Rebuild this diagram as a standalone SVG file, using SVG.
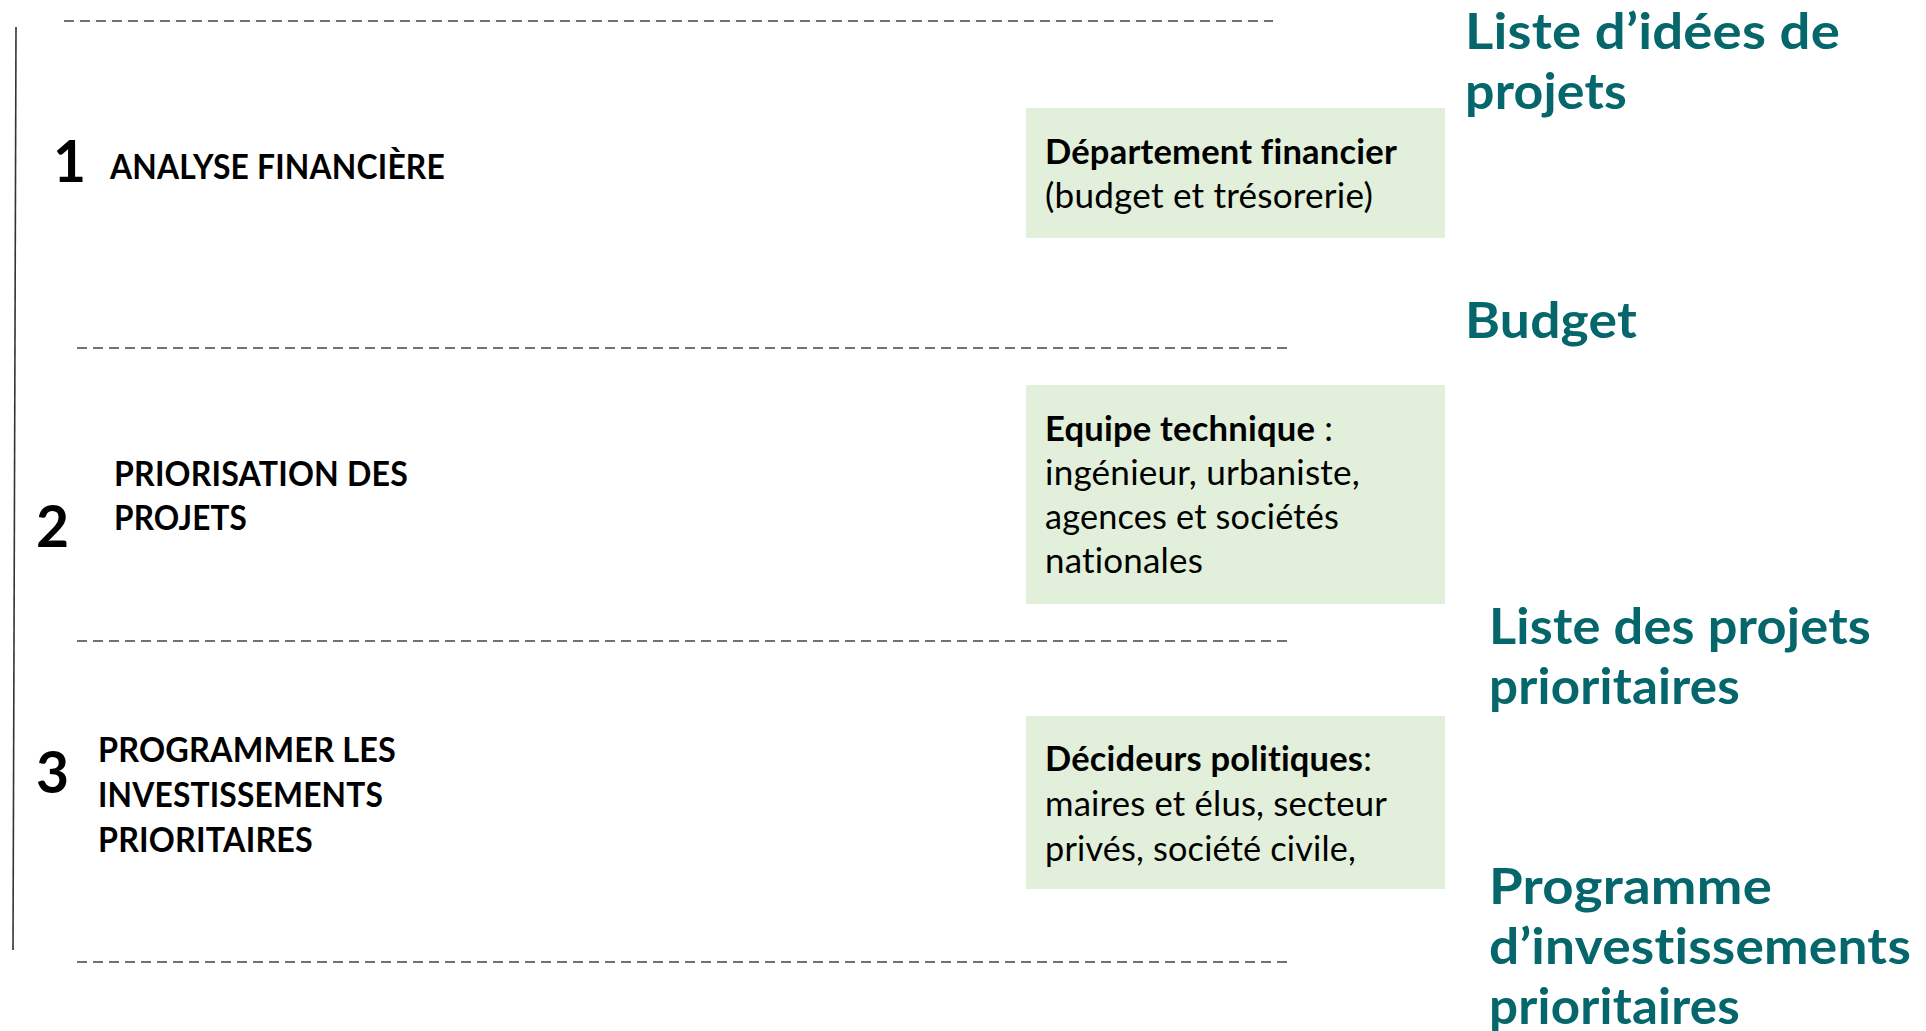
<svg xmlns="http://www.w3.org/2000/svg" width="1926" height="1031" viewBox="0 0 1926 1031">
<style>
text{font-variant-ligatures:none;font-feature-settings:"liga" 0,"dlig" 0,"clig" 0;letter-spacing:0.2px}
.bg{fill:#ffffff}
.box{fill:#E2EFDA}
.dash{stroke:#444;stroke-width:1.6;stroke-dasharray:10 6;fill:none}
.vline{stroke:#333;stroke-width:1.6;fill:none}
.num{font-family:Lato,"Open Sans",sans-serif;font-weight:bold;font-size:57px;fill:#000}
.step{font-family:Lato,"Open Sans",sans-serif;font-weight:bold;font-size:35px;fill:#000}
.body{font-family:Lato,"Open Sans",sans-serif;font-size:35px;fill:#000}
.b{font-weight:bold}
.out{font-family:Lato,"Open Sans",sans-serif;font-weight:bold;font-size:50px;fill:#05666B}
</style>
<rect class="bg" x="0" y="0" width="1926" height="1031"/>
<g id="connectors">
<line class="vline" x1="16" y1="27" x2="13" y2="950"/>
<line class="dash" x1="64" y1="21" x2="1273" y2="21"/>
<line class="dash" x1="77" y1="348" x2="1287" y2="348"/>
<line class="dash" x1="77" y1="641" x2="1287" y2="641"/>
<line class="dash" x1="77" y1="962" x2="1287" y2="962"/>
</g>
<g id="step1">
<text class="num" x="53" y="182">1</text>
<text class="step" x="110" y="179" textLength="335" lengthAdjust="spacingAndGlyphs">ANALYSE FINANCIÈRE</text>
</g>
<g id="step2">
<text class="num" x="36" y="547">2</text>
<text class="step" x="114" y="486" textLength="294" lengthAdjust="spacingAndGlyphs">PRIORISATION DES</text>
<text class="step" x="114" y="530" textLength="133" lengthAdjust="spacingAndGlyphs">PROJETS</text>
</g>
<g id="step3">
<text class="num" x="36" y="793">3</text>
<text class="step" x="98" y="762" textLength="298" lengthAdjust="spacingAndGlyphs">PROGRAMMER LES</text>
<text class="step" x="98" y="807" textLength="285" lengthAdjust="spacingAndGlyphs">INVESTISSEMENTS</text>
<text class="step" x="98" y="852" textLength="215" lengthAdjust="spacingAndGlyphs">PRIORITAIRES</text>
</g>
<g id="actor1">
<rect class="box" x="1026" y="108" width="419" height="130"/>
<text class="body b" x="1045" y="164" textLength="352" lengthAdjust="spacingAndGlyphs">Département financier</text>
<text class="body" x="1045" y="208" textLength="328" lengthAdjust="spacingAndGlyphs">(budget et trésorerie)</text>
</g>
<g id="actor2">
<rect class="box" x="1026" y="385" width="419" height="219"/>
<text class="body" x="1045" y="441" textLength="288" lengthAdjust="spacingAndGlyphs"><tspan class="b">Equipe technique</tspan> :</text>
<text class="body" x="1045" y="485" textLength="315" lengthAdjust="spacingAndGlyphs">ingénieur, urbaniste,</text>
<text class="body" x="1045" y="529" textLength="294" lengthAdjust="spacingAndGlyphs">agences et sociétés</text>
<text class="body" x="1045" y="573" textLength="158" lengthAdjust="spacingAndGlyphs">nationales</text>
</g>
<g id="actor3">
<rect class="box" x="1026" y="716" width="419" height="173"/>
<text class="body" x="1045" y="771" textLength="327" lengthAdjust="spacingAndGlyphs"><tspan class="b">Décideurs politiques</tspan>:</text>
<text class="body" x="1045" y="816" textLength="342" lengthAdjust="spacingAndGlyphs">maires et élus, secteur</text>
<text class="body" x="1045" y="861" textLength="311" lengthAdjust="spacingAndGlyphs">privés, société civile,</text>
</g>
<g id="output1">
<text class="out" x="1465" y="49" textLength="375" lengthAdjust="spacingAndGlyphs">Liste d’idées de</text>
<text class="out" x="1465" y="109" textLength="162" lengthAdjust="spacingAndGlyphs">projets</text>
</g>
<g id="output2">
<text class="out" x="1465" y="338" textLength="172" lengthAdjust="spacingAndGlyphs">Budget</text>
</g>
<g id="output3">
<text class="out" x="1489" y="644" textLength="382" lengthAdjust="spacingAndGlyphs">Liste des projets</text>
<text class="out" x="1489" y="704" textLength="251" lengthAdjust="spacingAndGlyphs">prioritaires</text>
</g>
<g id="output4">
<text class="out" x="1489" y="904" textLength="283" lengthAdjust="spacingAndGlyphs">Programme</text>
<text class="out" x="1489" y="964" textLength="422" lengthAdjust="spacingAndGlyphs">d’investissements</text>
<text class="out" x="1489" y="1024" textLength="251" lengthAdjust="spacingAndGlyphs">prioritaires</text>
</g>
</svg>
